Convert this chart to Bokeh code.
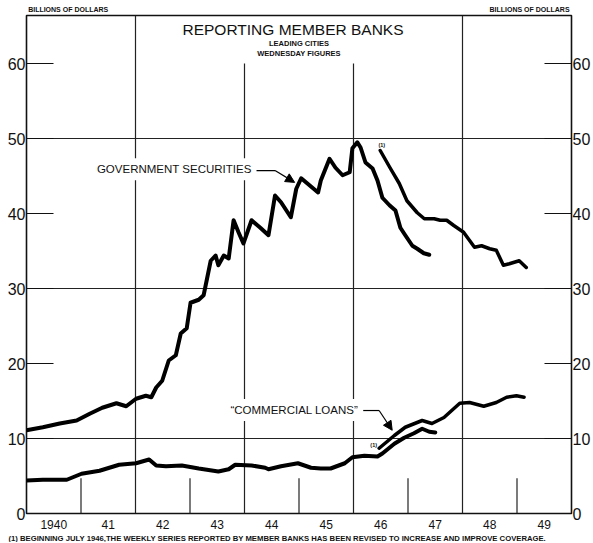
from bokeh.plotting import figure
from bokeh.models import Range1d, FixedTicker, LinearAxis, Label, Arrow, NormalHead, Title
from bokeh.embed import file_html
from bokeh.resources import INLINE

# ---- data (billions of dollars) ----
gov_old_year = [1940.0, 1940.3, 1940.61, 1940.92, 1941.16, 1941.39, 1941.65, 1941.83, 1942.01, 1942.19,
                1942.29, 1942.38, 1942.49, 1942.61, 1942.74, 1942.83, 1942.94, 1943.01, 1943.16, 1943.25,
                1943.38, 1943.47, 1943.52, 1943.62, 1943.71, 1943.8, 1943.89, 1943.98, 1944.13, 1944.29,
                1944.44, 1944.56, 1944.67, 1944.85, 1944.95, 1945.04, 1945.35, 1945.4, 1945.56, 1945.67,
                1945.8, 1945.93, 1945.98, 1946.07, 1946.13, 1946.22, 1946.35, 1946.44, 1946.53, 1946.66,
                1946.77, 1946.86, 1946.95, 1947.08, 1947.17, 1947.29, 1947.39]
gov_old_val = [11.1, 11.5, 12.0, 12.4, 13.3, 14.1, 14.7, 14.3, 15.3, 15.7,
               15.5, 16.8, 17.7, 20.4, 21.1, 24.0, 24.7, 28.1, 28.5, 29.1,
               33.7, 34.4, 33.1, 34.4, 34.0, 39.1, 37.5, 36.0, 39.1, 38.1,
               37.1, 42.4, 41.5, 39.5, 43.3, 44.7, 42.8, 44.4, 47.3, 46.1,
               45.1, 45.5, 48.7, 49.5, 48.8, 46.8, 46.0, 44.4, 42.1, 41.1,
               40.4, 38.1, 37.1, 35.7, 35.3, 34.7, 34.5]

gov_new_year = [1946.49, 1946.67, 1946.84, 1946.98, 1947.17, 1947.3, 1947.48, 1947.59, 1947.71, 1947.84,
                1948.02, 1948.13, 1948.22, 1948.35, 1948.5, 1948.62, 1948.75, 1948.86, 1949.04, 1949.17]
gov_new_val = [48.4, 46.1, 44.0, 41.7, 40.1, 39.3, 39.3, 39.1, 39.1, 38.4,
               37.5, 36.4, 35.5, 35.7, 35.3, 35.1, 33.1, 33.3, 33.7, 32.8]

loans_old_year = [1940.0, 1940.3, 1940.74, 1941.01, 1941.34, 1941.7, 1942.01, 1942.25, 1942.38, 1942.56,
                  1942.85, 1943.16, 1943.52, 1943.71, 1943.83, 1944.13, 1944.38, 1944.44, 1944.67, 1944.98,
                  1945.22, 1945.4, 1945.58, 1945.84, 1945.98, 1946.2, 1946.44, 1946.53, 1946.75, 1946.93,
                  1947.11, 1947.26, 1947.39, 1947.5]
loans_old_val = [4.4, 4.5, 4.5, 5.3, 5.7, 6.5, 6.7, 7.2, 6.4, 6.3,
                 6.4, 6.0, 5.6, 5.9, 6.5, 6.4, 6.1, 5.9, 6.3, 6.7,
                 6.1, 6.0, 6.0, 6.7, 7.5, 7.7, 7.6, 8.0, 9.3, 10.1,
                 10.7, 11.3, 10.9, 10.8]

loans_new_year = [1946.47, 1946.75, 1946.95, 1947.26, 1947.44, 1947.66, 1947.95, 1948.13, 1948.39, 1948.62,
                  1948.81, 1948.99, 1949.13]
loans_new_val = [8.7, 10.4, 11.5, 12.4, 12.0, 12.8, 14.7, 14.8, 14.3, 14.8,
                 15.5, 15.7, 15.5]

y_ticks = [0, 10, 20, 30, 40, 50, 60]
grid_values = [10, 30, 50]
year_ticks = [1940.5, 1941.5, 1942.5, 1943.5, 1944.5, 1945.5, 1946.5, 1947.5, 1948.5, 1949.5]
year_labels = ["1940", "41", "42", "43", "44", "45", "46", "47", "48", "49"]
unit_ticks = [1940.765, 1949.23]
unit_labels = ["BILLIONS OF DOLLARS", "BILLIONS OF DOLLARS"]
full_lines = [1942, 1948]
mid_lines = [1944, 1946]
short_lines = [1941, 1943, 1945, 1947, 1949]
footnote = "(1) BEGINNING JULY 1946,THE WEEKLY SERIES REPORTED BY MEMBER BANKS HAS BEEN REVISED TO INCREASE AND IMPROVE COVERAGE."

SANS = "Liberation Sans"
INK = "#111111"

p = figure(width=593, height=542, x_range=Range1d(1940, 1950), y_range=Range1d(0, 66.4),
           output_backend="svg", toolbar_location=None,
           min_border_left=26, min_border_right=18, min_border_top=15, min_border_bottom=29)
p.background_fill_color = "white"
p.border_fill_color = "white"
p.outline_line_color = INK
p.outline_line_width = 1.6

# y axes (left and right)
def style_y(ax):
    ax.ticker = FixedTicker(ticks=y_ticks)
    ax.major_tick_in = 27
    ax.major_tick_out = 0
    ax.minor_tick_line_color = None
    ax.minor_tick_in = 0
    ax.minor_tick_out = 0
    ax.axis_line_color = None
    ax.major_tick_line_color = INK
    ax.major_tick_line_width = 1.2
    ax.major_label_standoff = 1
    ax.major_label_text_font = SANS
    ax.major_label_text_font_size = "16px"
    ax.major_label_text_color = INK

style_y(p.yaxis[0])
right = LinearAxis()
style_y(right)
p.add_layout(right, "right")

def style_x(ax):
    ax.major_tick_line_color = None
    ax.minor_tick_line_color = None
    ax.major_tick_in = 0
    ax.major_tick_out = 0
    ax.minor_tick_in = 0
    ax.minor_tick_out = 0
    ax.axis_line_color = None
    ax.major_label_text_font = SANS
    ax.major_label_text_color = INK

# x axis with year labels
style_x(p.xaxis[0])
p.xaxis.ticker = FixedTicker(ticks=year_ticks)
p.xaxis.major_label_overrides = {t: l for t, l in zip(year_ticks, year_labels)}
p.xaxis.major_label_standoff = 6
p.xaxis.major_label_text_font_size = "12px"

# top axis carrying the unit captions
top_ax = LinearAxis(ticker=FixedTicker(ticks=unit_ticks),
                    major_label_overrides={t: l for t, l in zip(unit_ticks, unit_labels)})
style_x(top_ax)
top_ax.major_label_standoff = 3
top_ax.major_label_text_font_size = "7px"
top_ax.major_label_text_font_style = "bold"
p.add_layout(top_ax, "above")

# footnote
p.add_layout(Title(text=footnote, align="left", offset=-18, standoff=0, text_font=SANS,
                   text_font_size="7.7px", text_font_style="bold", text_color=INK), "below")

# grid
p.xgrid.visible = False
p.ygrid.ticker = FixedTicker(ticks=grid_values)
p.ygrid.grid_line_color = "#222222"
p.ygrid.grid_line_width = 1.2

top = p.y_range.end
p.segment(x0=full_lines, x1=full_lines, y0=[0] * len(full_lines), y1=[top] * len(full_lines),
          line_color="#222222", line_width=1.2)
p.segment(x0=mid_lines, x1=mid_lines, y0=[0] * len(mid_lines), y1=[60] * len(mid_lines),
          line_color="#222222", line_width=1.2)
p.segment(x0=short_lines, x1=short_lines, y0=[0] * len(short_lines), y1=[4.7] * len(short_lines),
          line_color="#222222", line_width=1.2)

# data lines
for xs, ys, w in [(gov_old_year, gov_old_val, 4), (gov_new_year, gov_new_val, 3.5),
                  (loans_old_year, loans_old_val, 4), (loans_new_year, loans_new_val, 3.5)]:
    p.line(xs, ys, line_color="black", line_width=w, line_join="round", line_cap="round")

# text inside the frame
def lab(x, y, text, size, style="normal", align="left", baseline="middle", bg=None):
    l = Label(x=x, y=y, text=text, text_font=SANS, text_font_size=size, text_font_style=style,
              text_align=align, text_baseline=baseline, text_color=INK)
    if bg:
        l.background_fill_color = bg
        l.padding = 5
    p.add_layout(l)

lab(1944.89, 64.47, "REPORTING MEMBER BANKS", "15.5px", align="center")
lab(1945.0, 62.67, "LEADING CITIES", "7.5px", style="bold", align="center")
lab(1945.0, 61.35, "WEDNESDAY FIGURES", "7.5px", style="bold", align="center")

lab(1941.2, 45.9, "GOVERNMENT SECURITIES", "11.5px", bg="white")
lab(1943.65, 13.8, "\u201cCOMMERCIAL LOANS\u201d", "11.5px", bg="white")
lab(1946.52, 49.1, "(1)", "5.5px", style="bold", align="center")
lab(1946.37, 9.1, "(1)", "5.5px", style="bold", align="center")

# leader arrows
p.line([1944.12, 1944.56], [45.73, 45.73], line_color="black", line_width=1.2)
p.add_layout(Arrow(end=NormalHead(size=9, fill_color="black", line_color="black"),
                   x_start=1944.56, y_start=45.73, x_end=1944.92, y_end=44.15, line_width=1.2))
p.line([1946.06, 1946.47], [13.73, 13.73], line_color="black", line_width=1.2)
p.add_layout(Arrow(end=NormalHead(size=9, fill_color="black", line_color="black"),
                   x_start=1946.47, y_start=13.73, x_end=1946.71, y_end=11.1, line_width=1.2))

open("out.html", "w").write(file_html(p, INLINE))
